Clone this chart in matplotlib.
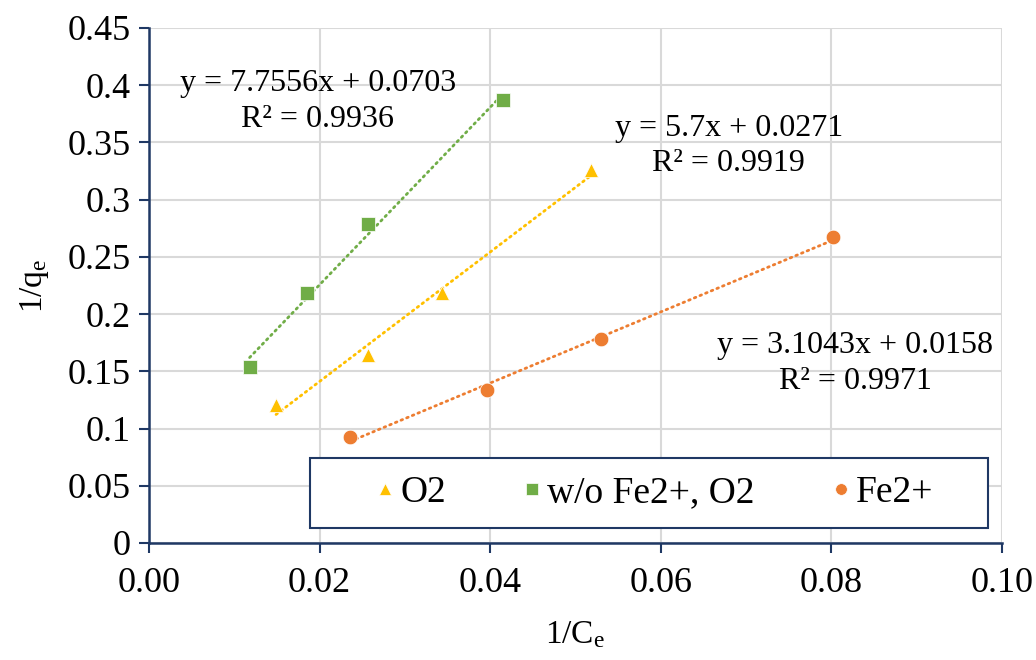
import numpy as np
import matplotlib
matplotlib.use("Agg")
import matplotlib.pyplot as plt
from matplotlib import patches

plt.rcParams['font.family'] = ['Liberation Serif', 'DejaVu Serif']
plt.rcParams['mathtext.fontset'] = 'custom'
plt.rcParams['mathtext.rm'] = 'Liberation Serif'
plt.rcParams['mathtext.it'] = 'Liberation Serif:italic'

# data
x_o2 = [0.0149, 0.0257, 0.0344, 0.0518]
y_o2 = [0.121, 0.164, 0.218, 0.326]
x_wo = [0.0118, 0.0185, 0.0257, 0.0415]
y_wo = [0.154, 0.218, 0.279, 0.387]
x_fe = [0.0236, 0.0396, 0.0530, 0.0802]
y_fe = [0.093, 0.134, 0.178, 0.267]

eq_o2 = "y = 5.7x + 0.0271\nR\u00b2 = 0.9919"
eq_wo = "y = 7.7556x + 0.0703\nR\u00b2 = 0.9936"
eq_fe = "y = 3.1043x + 0.0158\nR\u00b2 = 0.9971"

C_O2 = '#FFC000'
C_WO = '#70AD47'
C_FE = '#ED7D31'
NAVY = '#1F3864'
FS_TICK = 26
FS_EQ = 23
FS_LEG = 27
FS_LAB = 24

fig = plt.figure(figsize=(10.36, 6.6), dpi=100)
ax = fig.add_axes([0.1438, 0.1773, 0.8232, 0.7803])

series = [
    (x_o2, y_o2, C_O2, '^', 'O2'),
    (x_wo, y_wo, C_WO, 's', 'w/o Fe2+, O2'),
    (x_fe, y_fe, C_FE, 'o', 'Fe2+'),
]
for xs, ys, c, m, lab in series:
    xs = np.array(xs)
    ys = np.array(ys)
    k, b = np.polyfit(xs, ys, 1)
    xl = np.array([xs.min(), xs.max()])
    ax.plot(xl, k * xl + b, color=c, lw=2.0, linestyle=(0, (0.6, 1.6)),
            dash_capstyle='round', zorder=2)
    ax.plot(xs, ys, linestyle='none', marker=m, color=c, markersize=10.5,
            markeredgecolor='white', markeredgewidth=0.5, label=lab, zorder=3)

ax.text(0.0198, 0.386, eq_wo, ha='center', va='center', fontsize=FS_EQ,
        multialignment='center', linespacing=1.3)
ax.text(0.068, 0.347, eq_o2, ha='center', va='center', fontsize=FS_EQ,
        multialignment='center', linespacing=1.3)
ax.text(0.0828, 0.157, eq_fe, ha='center', va='center', fontsize=FS_EQ,
        multialignment='center', linespacing=1.3)

ax.set_xlim(0, 0.10)
ax.set_ylim(0, 0.45)
ax.set_xticks(np.arange(0, 0.101, 0.02))
ax.set_xticklabels(['0.00', '0.02', '0.04', '0.06', '0.08', '0.10'])
ax.set_yticks(np.arange(0, 0.451, 0.05))
ax.set_yticklabels(['0', '0.05', '0.1', '0.15', '0.2', '0.25', '0.3', '0.35', '0.4', '0.45'])
ax.tick_params(labelsize=FS_TICK, direction='out', color=NAVY, width=1.5, length=7)
ax.tick_params(axis='x', pad=10)
ax.tick_params(axis='y', pad=6)
ax.grid(True, color='#d9d9d9', lw=1.5)
ax.set_axisbelow(True)
for s in ['top', 'right']:
    ax.spines[s].set_visible(False)
for s in ['left', 'bottom']:
    ax.spines[s].set_color(NAVY)
    ax.spines[s].set_linewidth(1.8)

ax.set_xlabel('1/C$_\\mathrm{e}$', fontsize=FS_LAB, labelpad=14)
ax.set_ylabel('1/q$_\\mathrm{e}$', fontsize=FS_LAB, labelpad=12)

# legend frame drawn separately, entries centred inside it
ax.add_patch(patches.Rectangle((0.189, 0.029), 0.795, 0.136, transform=ax.transAxes,
                               facecolor='white', edgecolor=NAVY, lw=1.5, zorder=4))
leg = ax.legend(loc='center', bbox_to_anchor=(0.592, 0.097), ncol=3, fontsize=FS_LEG,
                frameon=False, markerscale=0.8, handletextpad=0.1, handlelength=0.6,
                columnspacing=2.0, borderaxespad=0)
leg.set_zorder(5)

fig.savefig('out.png', dpi=100)
